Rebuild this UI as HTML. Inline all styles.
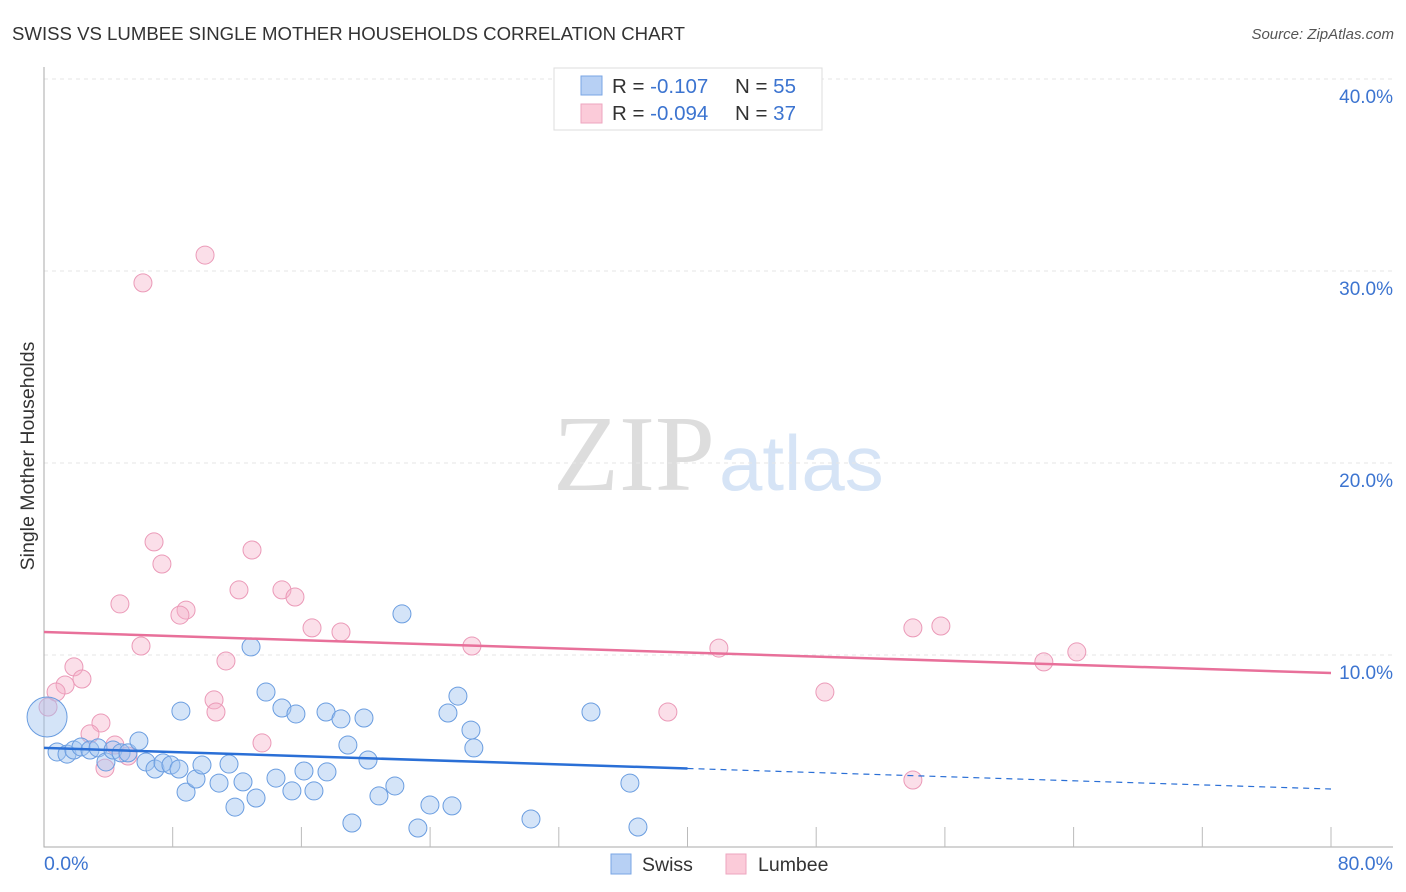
<!DOCTYPE html>
<html><head><meta charset="utf-8"><style>
body{margin:0;background:#fff;font-family:"Liberation Sans",sans-serif}
svg{display:block}
</style></head><body>
<svg id="c" width="1406" height="892">
<text x="12" y="40" font-size="18.6" fill="#333">SWISS VS LUMBEE SINGLE MOTHER HOUSEHOLDS CORRELATION CHART</text>
<text x="1394" y="39" font-size="15" fill="#555" font-style="italic" text-anchor="end">Source: ZipAtlas.com</text>
<text x="0" y="0" transform="translate(34,456) rotate(-90)" font-size="19.5" fill="#333" text-anchor="middle">Single Mother Households</text>
<g>
<text x="553" y="490" font-family="Liberation Serif,serif" font-size="108" fill="#ddd">ZIP</text>
<text x="719" y="490" font-size="78" fill="#d6e4f6">atlas</text>
</g>
<g id="grid"></g><g id="marks"></g>
<g>
<rect x="554" y="68" width="268" height="62" fill="#fff" stroke="#ddd"/>
<rect x="581" y="76" width="21" height="19" fill="#b7d0f4" stroke="#7aa6e4"/>
<rect x="581" y="104" width="21" height="19" fill="#fbcbd9" stroke="#eea6bf"/>
<text x="612" y="93" font-size="20.5" fill="#333">R = <tspan fill="#3c74d0"> -0.107</tspan><tspan x="735">N = </tspan><tspan fill="#3c74d0">55</tspan></text>
<text x="612" y="120" font-size="20.5" fill="#333">R = <tspan fill="#3c74d0">-0.094</tspan><tspan x="735">N = </tspan><tspan fill="#3c74d0">37</tspan></text>
</g>
<g>
<rect x="611" y="854" width="20" height="20" fill="#b7d0f4" stroke="#7aa6e4"/>
<text x="642" y="871" font-size="19.5" fill="#333">Swiss</text>
<rect x="726" y="854" width="20" height="20" fill="#fbcbd9" stroke="#eea6bf"/>
<text x="758" y="871" font-size="19.5" fill="#333">Lumbee</text>
</g>
</svg>
<script>
const yTicks=[10,20,30,40];
const yTickLabels=["10.0%","20.0%","30.0%","40.0%"];
const xTicks=[8,16,24,32,40,48,56,64,72,80];
const swissX=[0.19,0.81,1.43,1.86,2.30,2.86,3.36,3.85,4.29,4.79,5.22,5.90,6.34,6.90,7.40,7.89,8.39,8.83,9.45,9.82,10.88,11.50,11.87,12.37,13.18,12.87,13.80,14.42,14.79,15.41,15.66,16.16,16.78,17.53,17.59,18.46,18.89,19.14,19.89,20.14,20.82,21.81,22.25,23.24,23.99,25.11,25.36,25.73,26.54,26.72,30.27,34.00,36.42,36.92,8.51];
const swissY=[6.77,4.95,4.84,5.05,5.21,5.05,5.16,4.43,5.05,4.90,4.90,5.52,4.43,4.06,4.38,4.27,4.06,2.86,3.54,4.27,3.33,4.32,2.08,3.39,2.55,10.42,8.07,3.59,7.24,2.92,6.93,3.96,2.92,7.03,3.91,6.67,5.31,1.25,6.72,4.53,2.66,3.18,12.14,0.99,2.19,6.98,2.14,7.86,6.09,5.16,1.46,7.03,3.33,1.04,7.08];
const lumbeeX=[6.15,10.01,6.84,7.33,12.93,4.72,8.83,8.45,12.12,14.79,15.60,16.66,18.46,6.03,11.31,1.86,2.36,1.31,0.75,0.25,10.57,10.69,3.54,2.86,4.41,5.22,3.79,13.55,26.60,41.95,48.54,38.78,54.01,55.75,62.15,64.20,54.01];
const lumbeeY=[29.38,30.83,15.89,14.74,15.47,12.66,12.34,12.08,13.39,13.39,13.02,11.41,11.20,10.47,9.69,9.38,8.75,8.44,8.07,7.29,7.66,7.03,6.46,5.89,5.31,4.74,4.11,5.42,10.47,10.36,8.07,7.03,11.41,11.51,9.64,10.16,3.49];
const swissTrend=[5.16,3.02];
const lumbeeTrend=[11.2,9.06];
const NS="http://www.w3.org/2000/svg";
const X=v=>44+v*16.0875, Y=v=>847-v*19.2;
function mk(t,a,p){const e=document.createElementNS(NS,t);for(const k in a)e.setAttribute(k,a[k]);p.appendChild(e);return e;}
const g=document.getElementById('grid'), m=document.getElementById('marks');
yTicks.forEach((v,i)=>{
 const l=mk('line',{x1:44,x2:1393,y1:Y(v),y2:Y(v),stroke:'#e6e6e6','stroke-dasharray':'4,4'},g);
 
 
 const t=mk('text',{x:1393,y:Y(v)+24,'font-size':19,fill:'#3c74d0','text-anchor':'end'},g);t.textContent=yTickLabels[i];
 
 
});
const ax=mk('path',{d:'M44 67V847H1393',fill:'none',stroke:'#aaa'},g);


xTicks.forEach(v=>{const l=mk('line',{x1:X(v),x2:X(v),y1:827,y2:847,stroke:'#bbb'},g);
 
 });
let t=mk('text',{x:44,y:870,'font-size':19.5,fill:'#3c74d0'},g);t.textContent='0.0%';


t=mk('text',{x:1393,y:870,'font-size':19.5,fill:'#3c74d0','text-anchor':'end'},g);t.textContent='80.0%';


lumbeeX.forEach((x,i)=>{const c=mk('circle',{cx:X(x),cy:Y(lumbeeY[i]),r:9,fill:'rgba(246,175,199,0.4)',stroke:'#eb9ab8','stroke-width':1},m);
 
 });
swissX.forEach((x,i)=>{const c=mk('circle',{cx:X(x),cy:Y(swissY[i]),r:i===0?20:9,fill:'rgba(160,195,240,0.45)',stroke:'#6a9de0','stroke-width':1},m);
 
 });
let l=mk('line',{x1:X(0),x2:X(80),y1:Y(lumbeeTrend[0]),y2:Y(lumbeeTrend[1]),stroke:'#e8709a','stroke-width':2.5},m);


const sm=(swissTrend[0]+swissTrend[1])/2;
l=mk('line',{x1:X(0),x2:X(40),y1:Y(swissTrend[0]),y2:Y(sm),stroke:'#2a6fd6','stroke-width':2.5},m);


l=mk('line',{x1:X(40),x2:X(80),y1:Y(sm),y2:Y(swissTrend[1]),stroke:'#2a6fd6','stroke-width':1.2,'stroke-dasharray':'6,5'},m);


</script>
</body></html>
